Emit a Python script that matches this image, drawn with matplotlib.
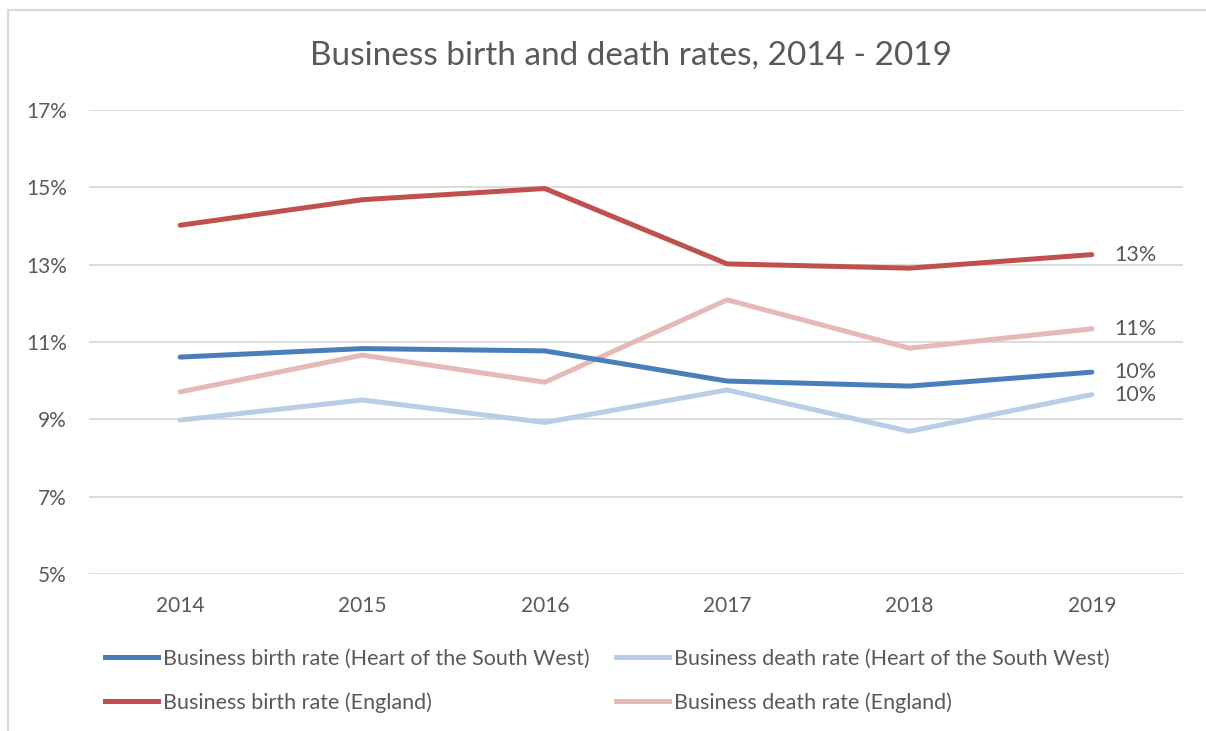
import matplotlib.pyplot as plt
from matplotlib.lines import Line2D

# ---------- data ----------
years = ["2014", "2015", "2016", "2017", "2018", "2019"]
birth_hotsw = [10.61, 10.83, 10.77, 9.99, 9.86, 10.22]
death_hotsw = [8.98, 9.50, 8.92, 9.76, 8.69, 9.64]
birth_eng = [14.02, 14.68, 14.97, 13.02, 12.91, 13.26]
death_eng = [9.71, 10.66, 9.96, 12.09, 10.84, 11.34]

yticks = [5, 7, 9, 11, 13, 15, 17]

txt = "#595959"
grid = "#d9d9d9"
plt.rcParams["font.family"] = ["Lato", "DejaVu Sans"]

fig = plt.figure(figsize=(12.06, 7.31), dpi=100)
W, H = 1206, 731
ax = fig.add_axes([89 / W, 1 - 574 / H, (1183 - 89) / W, (574 - 110) / H])

x = list(range(len(years)))
series = [
    ("Business birth rate (Heart of the South West)", birth_hotsw, "#4a7ebb"),
    ("Business birth rate (England)", birth_eng, "#c0504d"),
    ("Business death rate (Heart of the South West)", death_hotsw, "#b9cde5"),
    ("Business death rate (England)", death_eng, "#e6b9b8"),
]

# light lines first so the strong ones sit on top
for name, vals, col in [series[2], series[3], series[0], series[1]]:
    ax.plot(x, vals, color=col, lw=3.6, solid_capstyle="round",
            solid_joinstyle="round", zorder=3)
    ax.annotate(f"{vals[-1]:.0f}%", (x[-1], vals[-1]), xytext=(16, 0),
                textcoords="offset points", va="center", ha="left",
                fontsize=15.5, color=txt)

ax.set_xlim(-0.5, len(years) - 0.5)
ax.set_ylim(5, 17)
ax.set_yticks(yticks)
ax.set_yticklabels([f"{t}%" for t in yticks])
ax.set_xticks(x)
ax.set_xticklabels(years)
ax.tick_params(length=0, labelsize=15, colors=txt)
ax.tick_params(axis="y", pad=16)
ax.tick_params(axis="x", pad=16)
ax.grid(axis="y", color=grid, lw=1.3)
ax.set_axisbelow(True)
for s in ax.spines.values():
    s.set_visible(False)

fig.text(631 / W, 1 - 56 / H, "Business birth and death rates, 2014 - 2019",
         ha="center", va="center", fontsize=24, color=txt)

handles = [Line2D([], [], color=c, lw=3.6) for _, _, c in series]
labels = [n for n, _, _ in series]
fig.legend(handles, labels, ncol=2, loc="upper left",
           bbox_to_anchor=(86 / W, 1 - 629 / H), frameon=False,
           fontsize=15.5, labelcolor=txt, handlelength=2.45, handletextpad=0.22,
           columnspacing=1.25, labelspacing=1.1)

# chart border (top and left edges visible in the crop)
fig.add_artist(Line2D([8 / W, 1], [1 - 10 / H, 1 - 10 / H], color=grid, lw=1.5))
fig.add_artist(Line2D([8 / W, 8 / W], [0, 1 - 10 / H], color=grid, lw=1.5))

fig.savefig("out.png", dpi=100, facecolor="white")
